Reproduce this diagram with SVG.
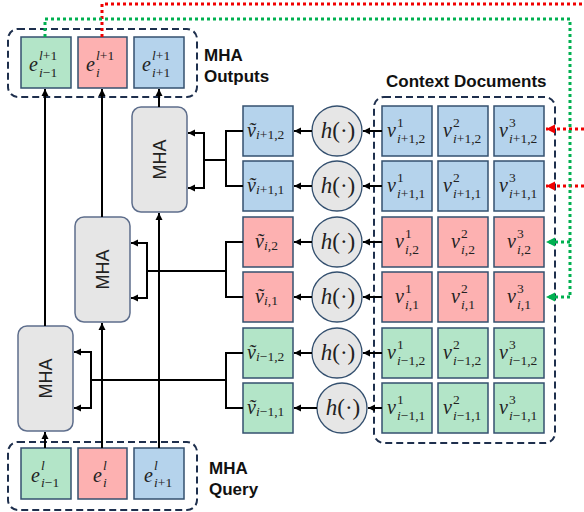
<svg xmlns="http://www.w3.org/2000/svg" width="584" height="512" viewBox="0 0 584 512">
<style>
.g{fill:#B3E5C8;stroke:#34506F;stroke-width:1.5}
.r{fill:#FDB1B1;stroke:#34506F;stroke-width:1.5}
.b{fill:#B5D3EC;stroke:#34506F;stroke-width:1.5}
.dash{fill:none;stroke:#1E2F4D;stroke-width:2;stroke-dasharray:7 4}
.mha{fill:#E6E6E6;stroke:#5E6E8C;stroke-width:1.5}
.circ{fill:#E6E6E6;stroke:#34506F;stroke-width:1.3}
.m{font-family:"Liberation Serif","DejaVu Serif",serif;font-size:20px;fill:#222}
.s{font-size:13.5px}
.it{font-style:italic}
.h{font-family:"Liberation Serif","DejaVu Serif",serif;font-size:23px;fill:#222}
.lbl{font-family:"Liberation Sans",Arial,sans-serif;font-weight:bold;font-size:17px;fill:#111}
.mt{font-family:"Liberation Sans",Arial,sans-serif;font-size:18px;fill:#222}
.ln{fill:none;stroke:#000;stroke-width:2}
.red{fill:none;stroke:#F00000;stroke-width:3;stroke-dasharray:3 3}
.grn{fill:none;stroke:#00B050;stroke-width:3;stroke-dasharray:3 3}
</style>
<defs>
<marker id="ah" markerWidth="8" markerHeight="8" refX="7" refY="4" orient="auto" markerUnits="userSpaceOnUse"><path d="M0,0.5 L7,4 L0,7.5 Z" fill="#000"/></marker>
<marker id="ahr" markerWidth="10" markerHeight="10" refX="9" refY="5" orient="auto" markerUnits="userSpaceOnUse"><path d="M0,0.5 L9,5 L0,9.5 Z" fill="#F00000"/></marker>
<marker id="ahg" markerWidth="10" markerHeight="10" refX="9" refY="5" orient="auto" markerUnits="userSpaceOnUse"><path d="M0,0.5 L9,5 L0,9.5 Z" fill="#00B050"/></marker>
</defs>
<rect width="584" height="512" fill="#fff"/>

<!-- MHA outputs -->
<g id="outputs">
<rect class="dash" x="8" y="29" width="189" height="68" rx="10"/>
<rect class="g" x="21" y="37" width="50" height="51"/>
<rect class="r" x="78" y="37" width="49" height="51"/>
<rect class="b" x="134" y="37" width="50" height="51"/>
<text class="m"><tspan class="it" x="29" y="71">e</tspan><tspan class="s" x="39" y="60"><tspan class="it">l</tspan>+1</tspan><tspan class="s" x="39" y="77"><tspan class="it">i</tspan>−1</tspan></text>
<text class="m"><tspan class="it" x="86" y="71">e</tspan><tspan class="s" x="96" y="60"><tspan class="it">l</tspan>+1</tspan><tspan class="s it" x="96" y="77">i</tspan></text>
<text class="m"><tspan class="it" x="142" y="71">e</tspan><tspan class="s" x="152" y="60"><tspan class="it">l</tspan>+1</tspan><tspan class="s" x="152" y="77"><tspan class="it">i</tspan>+1</tspan></text>
<text class="lbl" x="204" y="61">MHA</text>
<text class="lbl" x="204" y="82">Outputs</text>
</g>

<!-- MHA query -->
<g id="query">
<rect class="dash" x="8" y="442" width="189" height="68" rx="10"/>
<rect class="g" x="21" y="448" width="50" height="51"/>
<rect class="r" x="78" y="448" width="49" height="51"/>
<rect class="b" x="134" y="448" width="50" height="51"/>
<text class="m"><tspan class="it" x="31" y="482">e</tspan><tspan class="s it" x="41" y="470">l</tspan><tspan class="s" x="41" y="487"><tspan class="it">i</tspan>−1</tspan></text>
<text class="m"><tspan class="it" x="93" y="482">e</tspan><tspan class="s it" x="103" y="470">l</tspan><tspan class="s it" x="103" y="487">i</tspan></text>
<text class="m"><tspan class="it" x="144" y="482">e</tspan><tspan class="s it" x="154" y="470">l</tspan><tspan class="s" x="154" y="487"><tspan class="it">i</tspan>+1</tspan></text>
<text class="lbl" x="209" y="474">MHA</text>
<text class="lbl" x="209" y="495">Query</text>
</g>

<!-- MHA blocks -->
<g id="mha-top">
<rect class="mha" x="132" y="107" width="55" height="105" rx="9"/>
<text class="mt" transform="translate(166,159.5) rotate(-90)" text-anchor="middle">MHA</text>
</g>
<g id="mha-mid">
<rect class="mha" x="75" y="217" width="55" height="105" rx="9"/>
<text class="mt" transform="translate(109,269.5) rotate(-90)" text-anchor="middle">MHA</text>
</g>
<g id="mha-bot">
<rect class="mha" x="18" y="326" width="55" height="105" rx="9"/>
<text class="mt" transform="translate(52,378.5) rotate(-90)" text-anchor="middle">MHA</text>
</g>

<!-- tilde v column -->
<g id="tilde">
<rect class="b" x="243" y="106" width="50" height="50"/>
<rect class="b" x="243" y="161" width="50" height="50"/>
<rect class="r" x="243" y="217" width="50" height="50"/>
<rect class="r" x="243" y="272" width="50" height="50"/>
<rect class="g" x="243" y="328" width="50" height="50"/>
<rect class="g" x="243" y="383" width="50" height="50"/>
<text class="m"><tspan class="it" x="247" y="137">ṽ</tspan><tspan class="s" x="256" y="139"><tspan class="it">i</tspan>+1,2</tspan></text>
<text class="m"><tspan class="it" x="247" y="192">ṽ</tspan><tspan class="s" x="256" y="194"><tspan class="it">i</tspan>+1,1</tspan></text>
<text class="m"><tspan class="it" x="255" y="248">ṽ</tspan><tspan class="s" x="264" y="250"><tspan class="it">i</tspan>,2</tspan></text>
<text class="m"><tspan class="it" x="255" y="303">ṽ</tspan><tspan class="s" x="264" y="305"><tspan class="it">i</tspan>,1</tspan></text>
<text class="m"><tspan class="it" x="247" y="359">ṽ</tspan><tspan class="s" x="256" y="361"><tspan class="it">i</tspan>−1,2</tspan></text>
<text class="m"><tspan class="it" x="247" y="414">ṽ</tspan><tspan class="s" x="256" y="416"><tspan class="it">i</tspan>−1,1</tspan></text>
</g>

<!-- h functions -->
<g id="h-funcs">
<circle class="circ" cx="337" cy="131" r="25"/>
<circle class="circ" cx="337" cy="186" r="25"/>
<circle class="circ" cx="337" cy="242" r="25"/>
<circle class="circ" cx="337" cy="297" r="25"/>
<circle class="circ" cx="337" cy="353" r="25"/>
<circle class="circ" cx="342" cy="408" r="25"/>
<text class="h" x="338" y="138" text-anchor="middle"><tspan class="it">h</tspan>(·)</text>
<text class="h" x="338" y="193" text-anchor="middle"><tspan class="it">h</tspan>(·)</text>
<text class="h" x="338" y="249" text-anchor="middle"><tspan class="it">h</tspan>(·)</text>
<text class="h" x="338" y="304" text-anchor="middle"><tspan class="it">h</tspan>(·)</text>
<text class="h" x="338" y="360" text-anchor="middle"><tspan class="it">h</tspan>(·)</text>
<text class="h" x="343" y="415" text-anchor="middle"><tspan class="it">h</tspan>(·)</text>
</g>

<!-- context documents -->
<g id="context">
<text class="lbl" x="386" y="87">Context Documents</text>
<rect class="dash" x="374" y="97" width="181" height="346" rx="10"/>
<rect class="b" x="382" y="106" width="50" height="50"/><rect class="b" x="438" y="106" width="50" height="50"/><rect class="b" x="494" y="106" width="50" height="50"/>
<rect class="b" x="382" y="161" width="50" height="50"/><rect class="b" x="438" y="161" width="50" height="50"/><rect class="b" x="494" y="161" width="50" height="50"/>
<rect class="r" x="382" y="217" width="50" height="50"/><rect class="r" x="438" y="217" width="50" height="50"/><rect class="r" x="494" y="217" width="50" height="50"/>
<rect class="r" x="382" y="272" width="50" height="50"/><rect class="r" x="438" y="272" width="50" height="50"/><rect class="r" x="494" y="272" width="50" height="50"/>
<rect class="g" x="382" y="328" width="50" height="50"/><rect class="g" x="438" y="328" width="50" height="50"/><rect class="g" x="494" y="328" width="50" height="50"/>
<rect class="g" x="382" y="383" width="50" height="50"/><rect class="g" x="438" y="383" width="50" height="50"/><rect class="g" x="494" y="383" width="50" height="50"/>

<text class="m"><tspan class="it" x="387" y="137">v</tspan><tspan class="s" x="397" y="127">1</tspan><tspan class="s" x="397" y="143"><tspan class="it">i</tspan>+1,2</tspan></text>
<text class="m"><tspan class="it" x="443" y="137">v</tspan><tspan class="s" x="453" y="127">2</tspan><tspan class="s" x="453" y="143"><tspan class="it">i</tspan>+1,2</tspan></text>
<text class="m"><tspan class="it" x="499" y="137">v</tspan><tspan class="s" x="509" y="127">3</tspan><tspan class="s" x="509" y="143"><tspan class="it">i</tspan>+1,2</tspan></text>

<text class="m"><tspan class="it" x="387" y="192">v</tspan><tspan class="s" x="397" y="182">1</tspan><tspan class="s" x="397" y="198"><tspan class="it">i</tspan>+1,1</tspan></text>
<text class="m"><tspan class="it" x="443" y="192">v</tspan><tspan class="s" x="453" y="182">2</tspan><tspan class="s" x="453" y="198"><tspan class="it">i</tspan>+1,1</tspan></text>
<text class="m"><tspan class="it" x="499" y="192">v</tspan><tspan class="s" x="509" y="182">3</tspan><tspan class="s" x="509" y="198"><tspan class="it">i</tspan>+1,1</tspan></text>

<text class="m"><tspan class="it" x="395" y="248">v</tspan><tspan class="s" x="405" y="238">1</tspan><tspan class="s" x="405" y="254"><tspan class="it">i</tspan>,2</tspan></text>
<text class="m"><tspan class="it" x="451" y="248">v</tspan><tspan class="s" x="461" y="238">2</tspan><tspan class="s" x="461" y="254"><tspan class="it">i</tspan>,2</tspan></text>
<text class="m"><tspan class="it" x="507" y="248">v</tspan><tspan class="s" x="517" y="238">3</tspan><tspan class="s" x="517" y="254"><tspan class="it">i</tspan>,2</tspan></text>

<text class="m"><tspan class="it" x="395" y="303">v</tspan><tspan class="s" x="405" y="293">1</tspan><tspan class="s" x="405" y="309"><tspan class="it">i</tspan>,1</tspan></text>
<text class="m"><tspan class="it" x="451" y="303">v</tspan><tspan class="s" x="461" y="293">2</tspan><tspan class="s" x="461" y="309"><tspan class="it">i</tspan>,1</tspan></text>
<text class="m"><tspan class="it" x="507" y="303">v</tspan><tspan class="s" x="517" y="293">3</tspan><tspan class="s" x="517" y="309"><tspan class="it">i</tspan>,1</tspan></text>

<text class="m"><tspan class="it" x="387" y="359">v</tspan><tspan class="s" x="397" y="349">1</tspan><tspan class="s" x="397" y="365"><tspan class="it">i</tspan>−1,2</tspan></text>
<text class="m"><tspan class="it" x="443" y="359">v</tspan><tspan class="s" x="453" y="349">2</tspan><tspan class="s" x="453" y="365"><tspan class="it">i</tspan>−1,2</tspan></text>
<text class="m"><tspan class="it" x="499" y="359">v</tspan><tspan class="s" x="509" y="349">3</tspan><tspan class="s" x="509" y="365"><tspan class="it">i</tspan>−1,2</tspan></text>

<text class="m"><tspan class="it" x="387" y="414">v</tspan><tspan class="s" x="397" y="404">1</tspan><tspan class="s" x="397" y="420"><tspan class="it">i</tspan>−1,1</tspan></text>
<text class="m"><tspan class="it" x="443" y="414">v</tspan><tspan class="s" x="453" y="404">2</tspan><tspan class="s" x="453" y="420"><tspan class="it">i</tspan>−1,1</tspan></text>
<text class="m"><tspan class="it" x="499" y="414">v</tspan><tspan class="s" x="509" y="404">3</tspan><tspan class="s" x="509" y="420"><tspan class="it">i</tspan>−1,1</tspan></text>
</g>

<!-- connectors -->
<g id="connectors">
<path class="ln" d="M45,448 V432" marker-end="url(#ah)"/>
<path class="ln" d="M45,326 V89" marker-end="url(#ah)"/>
<path class="ln" d="M102,448 V323" marker-end="url(#ah)"/>
<path class="ln" d="M102,217 V89" marker-end="url(#ah)"/>
<path class="ln" d="M159,448 V213" marker-end="url(#ah)"/>
<path class="ln" d="M159,107 V89" marker-end="url(#ah)"/>
<path class="ln" d="M243,131 H226 V186 H243 M226,160 H204 M204,133 V188"/>
<path class="ln" d="M205,133 H188" marker-end="url(#ah)"/>
<path class="ln" d="M205,188 H188" marker-end="url(#ah)"/>
<path class="ln" d="M243,242 H226 V297 H243 M226,271 H147 M147,243 V298"/>
<path class="ln" d="M148,243 H131" marker-end="url(#ah)"/>
<path class="ln" d="M148,298 H131" marker-end="url(#ah)"/>
<path class="ln" d="M243,353 H226 V408 H243 M226,380 H91 M91,352 V408"/>
<path class="ln" d="M92,352 H74" marker-end="url(#ah)"/>
<path class="ln" d="M92,408 H74" marker-end="url(#ah)"/>
<path class="ln" d="M312,131 H294" marker-end="url(#ah)"/>
<path class="ln" d="M312,186 H294" marker-end="url(#ah)"/>
<path class="ln" d="M312,242 H294" marker-end="url(#ah)"/>
<path class="ln" d="M312,297 H294" marker-end="url(#ah)"/>
<path class="ln" d="M312,353 H294" marker-end="url(#ah)"/>
<path class="ln" d="M317,408 H294" marker-end="url(#ah)"/>
<path class="ln" d="M382,131 H363" marker-end="url(#ah)"/>
<path class="ln" d="M382,186 H363" marker-end="url(#ah)"/>
<path class="ln" d="M382,242 H363" marker-end="url(#ah)"/>
<path class="ln" d="M382,297 H363" marker-end="url(#ah)"/>
<path class="ln" d="M382,353 H363" marker-end="url(#ah)"/>
<path class="ln" d="M382,408 H368" marker-end="url(#ah)"/>
<path class="red" d="M102,37 V4 H584"/>
<path class="red" d="M584,129 H546" marker-end="url(#ahr)"/>
<path class="red" d="M584,186 H546" marker-end="url(#ahr)"/>
<path class="grn" d="M45,37 V19 H570 V297"/>
<path class="grn" d="M570,242 H546" marker-end="url(#ahg)"/>
<path class="grn" d="M570,297 H546" marker-end="url(#ahg)"/>
</g>
</svg>
